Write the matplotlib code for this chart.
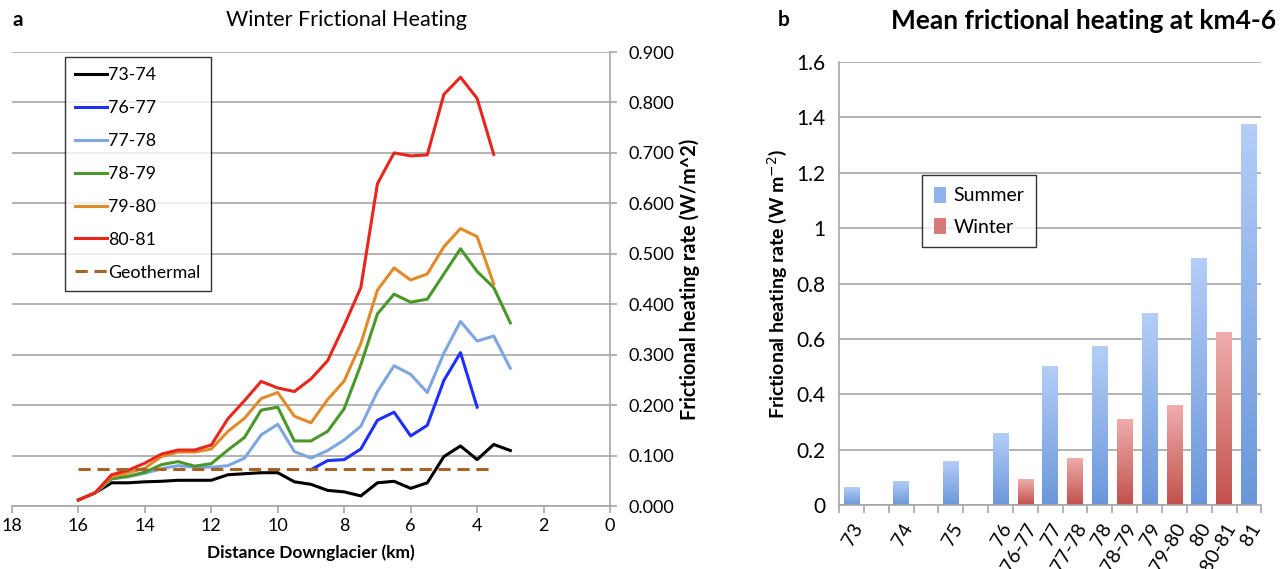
import matplotlib
matplotlib.use('Agg')
import matplotlib.pyplot as plt
import numpy as np
from matplotlib.colors import LinearSegmentedColormap
from matplotlib.patches import Patch

plt.rcParams['font.family'] = ['Lato', 'DejaVu Sans']

# ---- panel a: winter frictional heating along the glacier ----
km = [16, 15.5, 15, 14.5, 14, 13.5, 13, 12.5, 12, 11.5, 11, 10.5, 10, 9.5, 9,
      8.5, 8, 7.5, 7, 6.5, 6, 5.5, 5, 4.5, 4, 3.5, 3]
w7374 = [0.012, 0.026, 0.046, 0.046, 0.048, 0.049, 0.051, 0.051, 0.051, 0.062, 0.064,
         0.066, 0.066, 0.048, 0.043, 0.031, 0.028, 0.020, 0.046, 0.049, 0.035, 0.046,
         0.098, 0.119, 0.092, 0.122, 0.110]
km7677 = [9, 8.5, 8, 7.5, 7, 6.5, 6, 5.5, 5, 4.5, 4]
w7677 = [0.072, 0.090, 0.092, 0.113, 0.170, 0.186, 0.139, 0.160, 0.249, 0.304, 0.196]
w7778 = [0.012, 0.026, 0.054, 0.058, 0.065, 0.074, 0.080, 0.077, 0.077, 0.080, 0.095,
         0.141, 0.162, 0.108, 0.095, 0.110, 0.131, 0.158, 0.227, 0.278, 0.261, 0.225,
         0.303, 0.366, 0.327, 0.337, 0.273]
w7879 = [0.012, 0.026, 0.054, 0.059, 0.067, 0.082, 0.088, 0.079, 0.084, 0.111, 0.136,
         0.190, 0.196, 0.129, 0.129, 0.148, 0.193, 0.280, 0.381, 0.420, 0.404, 0.410,
         0.460, 0.510, 0.465, 0.433, 0.363]
w7980 = [0.012, 0.026, 0.058, 0.066, 0.075, 0.098, 0.107, 0.107, 0.113, 0.148, 0.174,
         0.213, 0.225, 0.178, 0.165, 0.211, 0.248, 0.322, 0.428, 0.472, 0.448, 0.460,
         0.514, 0.550, 0.534, 0.440]
w8081 = [0.012, 0.026, 0.062, 0.071, 0.085, 0.103, 0.111, 0.111, 0.121, 0.173, 0.209,
         0.247, 0.234, 0.227, 0.252, 0.288, 0.358, 0.433, 0.639, 0.700, 0.694, 0.696,
         0.816, 0.850, 0.808, 0.697]
geo_km = [16, 3.5]
geo = [0.074, 0.074]

# ---- panel b: mean frictional heating at km 4-6 ----
cats = ['73', '', '74', '', '75', '', '76', '76-77', '77', '77-78', '78', '78-79',
        '79', '79-80', '80', '80-81', '81']
nan = np.nan
summer = [0.064, nan, 0.085, nan, 0.158, nan, 0.257, nan, 0.499, nan, 0.571, nan,
          0.692, nan, 0.890, nan, 1.374]
winter = [nan, nan, nan, nan, nan, nan, nan, 0.092, nan, 0.169, nan, 0.309, nan,
          0.360, nan, 0.623, nan]

grid_c = '#a6a6a6'

fig = plt.figure(figsize=(12.84, 5.69), dpi=100)

# ---------- panel a ----------
ax = fig.add_axes([0.0093, 0.1107, 0.4658, 0.7979])
ax.plot(km, w7374, color='black', lw=2.2, label='73-74')
ax.plot(km7677, w7677, color='#1f2fff', lw=2.2, label='76-77')
ax.plot(km, w7778, color='#7ea6e0', lw=2.2, label='77-78')
ax.plot(km, w7879, color='#4a972a', lw=2.2, label='78-79')
ax.plot(km[:len(w7980)], w7980, color='#e08a2a', lw=2.2, label='79-80')
ax.plot(km[:len(w8081)], w8081, color='#e8261c', lw=2.2, label='80-81')
ax.plot(geo_km, geo, color='#a86428', lw=2.2, ls=(0, (4, 2.2)), label='Geothermal')

ax.set_xlim(18, 0)
ax.set_ylim(0, 0.9)
ax.set_xticks(np.arange(18, -1, -2))
ax.set_yticks(np.arange(0, 0.91, 0.1))
ax.yaxis.set_major_formatter(matplotlib.ticker.FormatStrFormatter('%.3f'))
ax.yaxis.tick_right()
ax.yaxis.set_label_position('right')
ax.grid(axis='y', color=grid_c, lw=1.2)
ax.set_axisbelow(True)
for s in ['top', 'left']:
    ax.spines[s].set_visible(False)
for s in ['right', 'bottom']:
    ax.spines[s].set_color(grid_c)
    ax.spines[s].set_linewidth(1.2)
ax.tick_params(axis='both', colors=grid_c, length=5, width=1.2, labelcolor='black',
               labelsize=13)
ax.tick_params(axis='y', pad=8)
ax.set_xlabel('Distance Downglacier (km)', fontsize=12.5, fontweight='bold', labelpad=8)
ax.set_ylabel('Frictional heating rate (W/m^2)', fontsize=14.3, fontweight='bold',
              labelpad=4)
ax.set_title('Winter Frictional Heating', fontsize=15.5, pad=19, x=0.56)
leg = ax.legend(loc='upper left', bbox_to_anchor=(0.088, 0.99), fontsize=12.8,
                frameon=True, fancybox=False, edgecolor='black', handlelength=1.8,
                handletextpad=0.05, labelspacing=0.95, borderpad=0.6, borderaxespad=0)
leg.get_frame().set_linewidth(1.0)
fig.text(0.01, 0.955, 'a', fontsize=15, fontweight='bold')

# ---------- panel b ----------
bx = fig.add_axes([0.6534, 0.1125, 0.3290, 0.7785])
x = np.arange(len(cats))
bw = 0.63
cm_s = LinearSegmentedColormap.from_list('s', ['#6b97da', '#b3cdf7'])
cm_w = LinearSegmentedColormap.from_list('w', ['#c2514d', '#eeadab'])
grad = np.linspace(0, 1, 100).reshape(-1, 1)
bars_s = bx.bar(x, summer, width=bw, color='none', label='Summer')
bars_w = bx.bar(x, winter, width=bw, color='none', label='Winter')
for bars, cmap in [(bars_s, cm_s), (bars_w, cm_w)]:
    for b in bars:
        h = b.get_height()
        if np.isnan(h):
            continue
        x0 = b.get_x()
        bx.imshow(grad, cmap=cmap, origin='lower', aspect='auto', zorder=2,
                  extent=(x0, x0 + b.get_width(), 0, h), interpolation='bilinear')

bx.set_xlim(-0.5, len(cats) - 0.5)
bx.set_ylim(0, 1.6)
bx.set_yticks(np.arange(0, 1.61, 0.2))
bx.set_yticklabels(['0', '0.2', '0.4', '0.6', '0.8', '1', '1.2', '1.4', '1.6'])
bx.set_xticks(x)
bx.set_xticklabels(cats, rotation=60, ha='right', rotation_mode='anchor')
bx.set_xticks(np.arange(-0.5, len(cats), 1), minor=True)
bx.tick_params(axis='x', which='major', length=0, labelsize=14, pad=11)
bx.tick_params(axis='x', which='minor', length=6, width=1.2, color=grid_c)
bx.tick_params(axis='y', length=0, labelsize=15, pad=10)
bx.grid(axis='y', color=grid_c, lw=1.2)
bx.set_axisbelow(True)
for s in ['top', 'right']:
    bx.spines[s].set_visible(False)
for s in ['left', 'bottom']:
    bx.spines[s].set_color(grid_c)
    bx.spines[s].set_linewidth(1.2)
bx.set_ylabel('Frictional heating rate (W m$^{-2}$)', fontsize=14, fontweight='bold',
              labelpad=5)
bx.set_title('Mean frictional heating at km4-6', fontsize=19, fontweight='bold',
             pad=24, x=0.58)
handles = [Patch(facecolor='#8fb2ea', edgecolor='none'),
           Patch(facecolor='#d67a77', edgecolor='none')]
leg2 = bx.legend(handles, ['Summer', 'Winter'], loc='upper left',
                 bbox_to_anchor=(0.197, 0.745), fontsize=14, frameon=True,
                 fancybox=False, edgecolor='black', handlelength=0.6,
                 handleheight=0.9, handletextpad=0.4, labelspacing=0.7,
                 borderpad=0.6, borderaxespad=0)
leg2.get_frame().set_linewidth(1.0)
fig.text(0.606, 0.955, 'b', fontsize=15, fontweight='bold')

fig.savefig('out.png', dpi=100)
